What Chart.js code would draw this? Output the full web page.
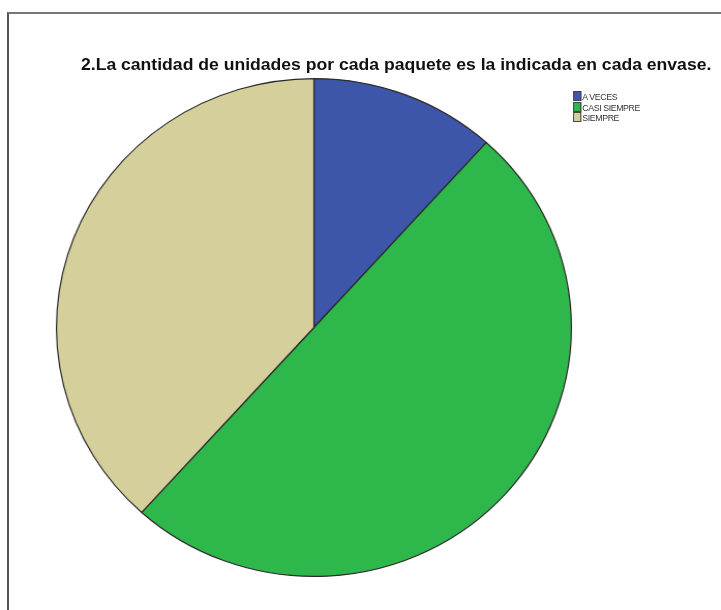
<!DOCTYPE html>
<html>
<head>
<meta charset="utf-8">
<script src="https://cdn.jsdelivr.net/npm/chart.js@4"></script>
<style>
    html, body { margin: 0; padding: 0; background: #fff; overflow: hidden; }
    body { width: 721px; height: 610px; position: relative; }
    /* outer frame of the chart viewer */
    .frame {
        position: absolute; left: 7px; top: 12px;
        width: 800px; height: 700px;
        border-left: 2px solid #555; border-top: 2px solid #777;
    }
    /* the whole figure is drawn a little wider than tall */
    .stage {
        position: absolute; left: 0; top: 0;
        width: 697px; height: 610px;
        transform: scaleX(1.0344); transform-origin: 0 0;
    }
    .stage canvas { position: absolute; left: 0; top: 0; }
    .title {
        position: absolute; left: 0; width: 766px; top: 55px;
        text-align: center; white-space: nowrap;
        font: bold 17px "Liberation Sans", Arial, sans-serif; color: #111;
        letter-spacing: 0px;
    }
    .legend {
        position: absolute; left: 554px; top: 91px;
        font: 8.5px "Liberation Sans", Arial, sans-serif; color: #333;
        letter-spacing: -0.4px;
    }
    .legend div { height: 10.7px; line-height: 10.7px; white-space: nowrap; }
    .legend span {
        display: inline-block; width: 6px; height: 8px; margin-right: 1px;
        border: 1px solid #444; vertical-align: -1px;
    }
</style>
</head>
<body>
<div class="frame"></div>
<div class="stage">
    <canvas id="pieChart" width="697" height="610"></canvas>
    <div class="title" id="title"></div>
    <div class="legend" id="legend"></div>
</div>
<script>
const titleText = '2.La cantidad de unidades por cada paquete es la indicada en cada envase.';
const categories = ['A VECES', 'CASI SIEMPRE', 'SIEMPRE'];
const counts = [7, 30, 23];
const sliceColors = ['#3d56a9', '#2eb84b', '#d5d09b'];

document.getElementById('title').textContent = titleText;

// Legend boxes in the top right corner
const legend = document.getElementById('legend');
categories.forEach((label, i) => {
    const row = document.createElement('div');
    row.innerHTML = `<span style="background:${sliceColors[i]}"></span>${label}`;
    legend.appendChild(row);
});

const ctx = document.getElementById('pieChart').getContext('2d');
new Chart(ctx, {
    type: 'pie',
    data: {
        labels: categories,
        datasets: [{
            data: counts,
            backgroundColor: sliceColors,
            borderColor: '#2a2a2a',
            borderWidth: 1.2
        }]
    },
    options: {
        responsive: false,
        animation: false,
        layout: {
            padding: { left: 54, top: 78, right: 144, bottom: 33 }
        },
        plugins: {
            legend: { display: false },
            title: { display: false },
            tooltip: { enabled: false }
        }
    }
});
</script>
</body>
</html>
